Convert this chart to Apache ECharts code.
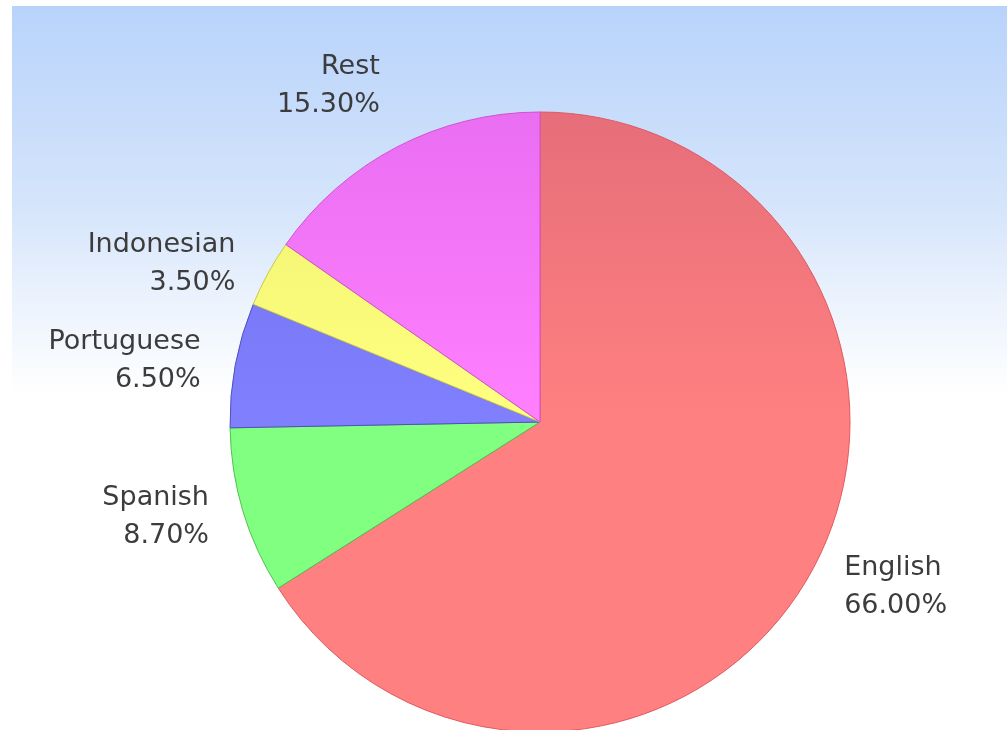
<!DOCTYPE html>
<html>
<head>
<meta charset="utf-8">
<script src="https://cdn.jsdelivr.net/npm/echarts@6/dist/echarts.min.js"></script>
<style>
  html, body { margin: 0; padding: 0; background: #fff; }
  #main { position: absolute; left: 12px; top: 6px; width: 995px; height: 724px; }
</style>
</head>
<body>
<div id="main"></div>
<script>
var languages = ['English', 'Spanish', 'Portuguese', 'Indonesian', 'Rest'];
var shares = [66.0, 8.7, 6.5, 3.5, 15.3];
var baseColors = ['#ff8080', '#80ff80', '#8080ff', '#ffff80', '#ff80ff'];
var topColors = ['#e66e7a', '#72ef78', '#7070f0', '#f0f070', '#ea6ef2'];
var edgeColors = ['#e05a60', '#50c050', '#5050c0', '#c8c850', '#d050d0'];

var dom = document.getElementById('main');
var myChart = echarts.init(dom);

function shade(i) {
    // darker at the top of the pie, plain colour from the middle down
    return new echarts.graphic.LinearGradient(0, 106, 0, 416, [
        {offset: 0, color: topColors[i]},
        {offset: 1, color: baseColors[i]}
    ], true);
}

var pieData = languages.map(function (name, i) {
    var item = {
        value: shares[i],
        name: name,
        itemStyle: {color: shade(i), borderColor: edgeColors[i], borderWidth: 1}
    };
    if (name === 'Rest') {
        item.labelLine = {length: 58, length2: 0};
    }
    return item;
});

var option = {
    backgroundColor: new echarts.graphic.LinearGradient(0, 0, 0, 1, [
        {offset: 0, color: '#b8d3fb'},
        {offset: 0.27, color: '#d4e4fb'},
        {offset: 0.41, color: '#ecf3fd'},
        {offset: 0.54, color: '#ffffff'},
        {offset: 1, color: '#ffffff'}
    ]),
    animation: false,
    series: [
        {
            type: 'pie',
            center: [528, 416],
            radius: 310,
            startAngle: 90,
            clockwise: true,
            avoidLabelOverlap: false,
            label: {
                show: true,
                position: 'outside',
                formatter: function (p) {
                    return p.name + '\n' + p.value.toFixed(2) + '%';
                },
                fontFamily: 'DejaVu Sans',
                fontSize: 27,
                lineHeight: 38,
                color: '#3c3c3c'
            },
            labelLine: {show: false, length: 20, length2: 10},
            labelLayout: function (params) {
                var name = languages[params.dataIndex];
                if (name === 'Rest') return {dx: 15, dy: -10};
                if (name === 'English') return {dy: 6};
                return {};
            },
            emphasis: {disabled: true},
            data: pieData
        }
    ]
};
myChart.setOption(option, true);
</script>
</body>
</html>
